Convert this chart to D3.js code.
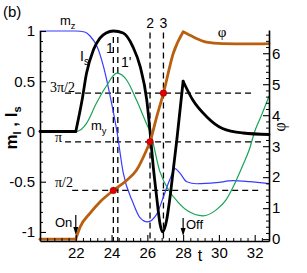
<!DOCTYPE html>
<html><head><meta charset="utf-8">
<script src="https://cdn.jsdelivr.net/npm/d3@7"></script>
<style>
html,body{margin:0;padding:0;background:#fff;}
svg{display:block;}
text{font-family:"Liberation Sans",Arial,Helvetica,sans-serif;fill:#000;}
.serif{font-family:"Liberation Serif","Times New Roman",serif;}
</style></head>
<body>
<svg id="c" width="307" height="273"></svg>
<script>
// ---- data ----
const T_MZ = [20, 22, 22.5, 22.8, 23.2, 23.55, 23.9, 24.3, 24.65, 25.2, 25.6, 26.0, 26.5, 26.9, 27.25, 27.55, 27.8, 28.2, 28.75, 29.85, 30.8, 31.7, 32.8];
const MZ   = [1, 1, 0.99, 0.95, 0.84, 0.645, 0.37, 0, -0.41, -0.71, -0.86, -0.9, -0.83, -0.65, -0.48, -0.37, -0.41, -0.5, -0.52, -0.51, -0.49, -0.5, -0.52];

const T_MY = [20, 22, 22.3, 22.6, 23.15, 23.7, 24.3, 24.85, 25.4, 25.95, 26.15, 26.7, 27.25, 27.7, 28.25, 29.1, 29.85, 30.4, 30.8, 31.3, 31.7, 32.0, 32.4, 32.8];
const MY   = [0, 0, 0.02, 0.08, 0.28, 0.45, 0.58, 0.51, 0.31, 0.08, 0, -0.4, -0.6, -0.7, -0.79, -0.84, -0.78, -0.68, -0.55, -0.35, -0.18, 0, 0.17, 0.35];

const T_IS = [20, 22, 22.35, 22.6, 22.98, 23.35, 23.7, 24.1, 24.65, 25.2, 25.6, 25.97, 26.15, 26.33, 26.52, 26.7, 26.85, 27.08, 27.27, 27.45, 27.65, 28.0, 28.55, 29.3, 30.2, 31.35, 32.8];
const IS   = [0, 0, 0.31, 0.58, 0.81, 0.93, 0.98, 1.0, 0.98, 0.84, 0.645, 0.31, 0, -0.35, -0.65, -0.91, -1.0, -0.88, -0.65, -0.38, -0.08, 0.5, 0.31, 0.15, 0.03, -0.015, -0.03];

const T_PHI = [20, 22, 22.25, 22.8, 23.35, 24.1, 24.85, 25.4, 25.95, 26.15, 26.5, 26.9, 27.45, 28.0, 28.55, 29.3, 30.2, 31.7, 32.8];
const PHI   = [0, 0, 0.4, 0.84, 1.2, Math.PI/2, 1.9, 2.23, 2.87, Math.PI, 3.9, 3*Math.PI/2, 6.0, 6.69, 6.53, 6.36, 6.31, 6.3, 6.31];

const KINKS = [22, 28];            // field on / off

const DOT_T   = [24.1, 26.15, 26.9];
const DOT_PHI = [Math.PI/2, Math.PI, 3*Math.PI/2];

const VLINE_T   = [24.1, 24.35, 26.15, 26.9];
const VLINE_TOP = [0.94, 0.94, 0.985, 0.985];

const HLINE_PHI  = [Math.PI/2, Math.PI, 3*Math.PI/2];
const HLINE_T0   = [21.8, 21.4, 21.4];
const HLINE_T1   = [32.3, 32.55, 32.0];

const X_MAJOR = [22, 24, 26, 28, 30, 32];
const Y_MAJOR = [-1, -0.5, 0, 0.5, 1];
const P_MAJOR = [0, 1, 2, 3, 4, 5, 6];

// ---- scales ----
const L = 40, R = 269, TOP = 30, BOT = 241;
const x  = d3.scaleLinear().domain([20, 32.8]).range([L, R]);
const yl = d3.scaleLinear().domain([-1.09, 1.0]).range([BOT, 31]);
const yr = d3.scaleLinear().domain([-0.06, 6.75]).range([BOT, TOP]);

const svg = d3.select("#c");

// ---- dashed reference lines ----
const dash = svg.append("g").attr("stroke", "#000").attr("stroke-width", 1.3).attr("stroke-dasharray", "6,4").attr("fill", "none");
VLINE_T.forEach((t, i) => {
  dash.append("line").attr("x1", x(t)).attr("x2", x(t)).attr("y1", yl(VLINE_TOP[i])).attr("y2", BOT);
});
HLINE_PHI.forEach((p, i) => {
  dash.append("line").attr("x1", x(HLINE_T0[i])).attr("x2", x(HLINE_T1[i])).attr("y1", yr(p)).attr("y2", yr(p));
});

// ---- curves ----
function segments(ts, vs, kinks) {
  const segs = []; let cur = [];
  ts.forEach((t, i) => {
    cur.push([t, vs[i]]);
    if (i > 0 && i < ts.length - 1 && kinks.includes(t)) { segs.push(cur); cur = [[t, vs[i]]]; }
  });
  segs.push(cur);
  return segs;
}
function draw(ts, vs, kinks, ys, color, width) {
  const line = d3.line().x(d => x(d[0])).y(d => ys(d[1])).curve(d3.curveMonotoneX);
  segments(ts, vs, kinks).forEach(s => {
    svg.append("path").attr("d", line(s)).attr("fill", "none").attr("stroke", color)
      .attr("stroke-width", width).attr("stroke-linejoin", "round").attr("stroke-linecap", "round");
  });
}
draw(T_MZ, MZ, [], yl, "#3a3aff", 1.2);
draw(T_MY, MY, [], yl, "#17a455", 1.2);
draw(T_IS, IS, KINKS, yl, "#000", 2.8);
draw(T_PHI, PHI, KINKS, yr, "#b85f10", 2.8);

svg.append("g").selectAll("circle").data(DOT_T).join("circle")
  .attr("cx", d => x(d)).attr("cy", (d, i) => yr(DOT_PHI[i])).attr("r", 3.3)
  .attr("fill", "#e00000").attr("stroke", "#900").attr("stroke-width", 0.5);

// ---- axes ----
function range(a, b, s) { const r = []; for (let v = a; v <= b + 1e-9; v += s) r.push(+v.toFixed(3)); return r; }
function styleAxis(g) {
  g.selectAll("path.domain").attr("stroke", "#000").attr("stroke-width", 1.6);
  g.selectAll(".tick line").attr("stroke", "#000").attr("stroke-width", 1.1);
  g.selectAll("text").attr("font-size", 15).attr("font-family", '"Liberation Sans",Arial,sans-serif');
}
// minor ticks
const minorX = range(20, 32.8, 0.4).filter(v => !X_MAJOR.includes(v));
const minorY = range(-1, 1, 0.1).filter(v => !Y_MAJOR.some(m => Math.abs(m - v) < 1e-6));
const minorP = range(0, 6.6, 0.2).filter(v => !P_MAJOR.some(m => Math.abs(m - v) < 1e-6));

const gx = svg.append("g").attr("transform", `translate(0,${BOT})`)
  .call(d3.axisBottom(x).tickValues(X_MAJOR).tickSizeInner(-6).tickSizeOuter(0).tickPadding(3).tickFormat(d => String(d)));
svg.append("g").attr("transform", `translate(0,${BOT})`)
  .call(d3.axisBottom(x).tickValues(minorX).tickSizeInner(-3).tickSizeOuter(0).tickFormat(""))
  .call(g => g.select(".domain").remove());
styleAxis(gx);

const gl = svg.append("g").attr("transform", `translate(${L},0)`)
  .call(d3.axisLeft(yl).tickValues(Y_MAJOR).tickSizeInner(-6).tickSizeOuter(0).tickPadding(5).tickFormat(d => String(d)));
svg.append("g").attr("transform", `translate(${L},0)`)
  .call(d3.axisLeft(yl).tickValues(minorY).tickSizeInner(-3).tickSizeOuter(0).tickFormat(""))
  .call(g => g.select(".domain").remove());
styleAxis(gl);

const gr = svg.append("g").attr("transform", `translate(${R},0)`)
  .call(d3.axisRight(yr).tickValues(P_MAJOR).tickSizeInner(-6).tickSizeOuter(0).tickPadding(3).tickFormat(d => String(d)));
svg.append("g").attr("transform", `translate(${R},0)`)
  .call(d3.axisRight(yr).tickValues(minorP).tickSizeInner(-3).tickSizeOuter(0).tickFormat(""))
  .call(g => g.select(".domain").remove());
styleAxis(gr);
gx.selectAll(".tick text").attr("dy", "0.9em");
svg.selectAll(".domain").attr("stroke", "#000");

// ---- text ----
function txt(xp, yp, s, size, cls, anchor) {
  return svg.append("text").attr("x", xp).attr("y", yp).attr("font-size", size)
    .attr("class", cls || null).attr("text-anchor", anchor || "start").text(s);
}
function sub(xp, yp, main, subs, size) {
  const t = svg.append("text").attr("x", xp).attr("y", yp).attr("font-size", size);
  t.append("tspan").text(main);
  t.append("tspan").attr("dy", size * 0.3).attr("font-size", size * 0.72).text(subs);
  return t;
}
txt(3, 17, "(b)", 15);
sub(60, 25, "m", "z", 13);
sub(80, 61, "I", "s", 14);
sub(91, 130, "m", "y", 13);
txt(106, 53, "1", 14);
txt(121, 67, "1'", 14);
txt(x(26.15), 28, "2", 14, null, "middle");
txt(x(26.9), 28, "3", 14, null, "middle");
txt(50, 92, "3π/2", 14, "serif");
txt(55, 142, "π", 14, "serif");
txt(55, 187, "π/2", 14, "serif");
txt(222, 37, "φ", 15, "serif", "middle");
txt(55, 227, "On", 13);
txt(186, 229, "Off", 13);
txt(200, 261, "t", 16, null, "middle");

// arrows
function arrow(t, y0, y1) {
  const xp = x(t);
  svg.append("line").attr("x1", xp).attr("x2", xp).attr("y1", y0).attr("y2", y1 - 6).attr("stroke", "#000").attr("stroke-width", 1.2);
  svg.append("path").attr("d", `M${xp - 2.5},${y1 - 8}L${xp + 2.5},${y1 - 8}L${xp},${y1}Z`).attr("fill", "#000");
}
arrow(22, 215, 235);
arrow(28, 218, 236);

// axis titles
const ylab = svg.append("text").attr("transform", "translate(17,128) rotate(-90)")
  .attr("text-anchor", "middle").attr("font-size", 17).attr("font-weight", "bold");
ylab.append("tspan").text("m");
ylab.append("tspan").attr("dy", 4).attr("font-size", 11).text("l");
ylab.append("tspan").attr("dy", -4).text(" ,  I");
ylab.append("tspan").attr("dy", 4).attr("font-size", 11).text("s");

svg.append("text").attr("class", "serif").attr("transform", "translate(285,127) rotate(-90)")
  .attr("text-anchor", "middle").attr("font-size", 16).text("φ");
</script>
</body></html>
